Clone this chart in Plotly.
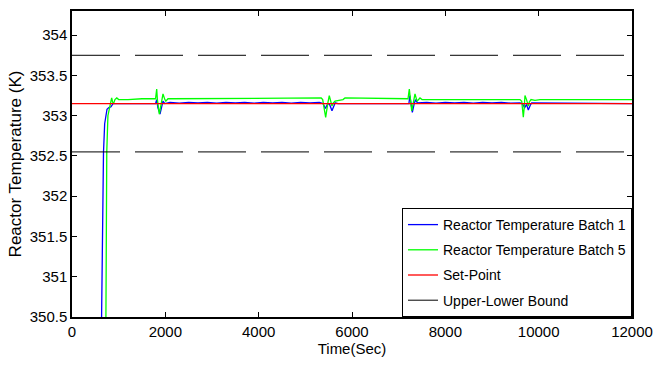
import plotly.graph_objects as go

# Reactor temperature, batch 1 (time in s, temperature in K)
t_batch1 = [630, 640, 660, 675, 700, 750, 790, 836, 879, 1790,
            1815, 1840, 1886, 1920, 1950, 1990,
            2100, 2300, 2500, 2700, 2900, 3100, 3300, 3500, 3700, 3900,
            4100, 4300, 4500, 4700, 4900, 5100, 5300,
            5380, 5430, 5480, 5520, 5571, 5610, 5640, 5700, 7220,
            7240, 7293, 7330, 7360, 7400,
            7600, 7800, 8000, 8200, 8400, 8600, 8800, 9000, 9200, 9400, 9600,
            9650, 9700, 9740, 9778, 9820, 9850, 12000]
T_batch1 = [350.3, 350.9, 351.8, 352.55, 352.9, 353.08, 353.1, 353.11, 353.15, 353.15,
            353.2, 353.1, 353.02, 353.1, 353.18, 353.15,
            353.165, 353.155, 353.165, 353.16, 353.165, 353.155, 353.165, 353.16, 353.165, 353.155,
            353.165, 353.16, 353.165, 353.155, 353.165, 353.16, 353.165,
            353.15, 353.09, 353.15, 353.14, 353.06, 353.12, 353.16, 353.15, 353.15,
            353.25, 353.04, 353.14, 353.2, 353.16,
            353.165, 353.155, 353.165, 353.16, 353.165, 353.155, 353.165, 353.16, 353.165, 353.155, 353.16,
            353.15, 353.1, 353.14, 353.07, 353.13, 353.16, 353.15]

# Reactor temperature, batch 5
t_batch5 = [725, 735, 745, 770, 800, 830, 850, 870, 890, 920, 960, 1000, 1200, 1500, 1790,
            1815, 1830, 1871, 1900, 1950, 1990, 2010, 2057, 5340,
            5372, 5436, 5480, 5513, 5571, 5600, 5636, 5700, 5807, 5850, 7200,
            7228, 7255, 7280, 7310, 7350, 7393, 7457, 7500, 7564, 9600,
            9637, 9671, 9690, 9707, 9740, 9778, 9800, 9836, 9921, 10029, 12000]
T_batch5 = [350.3, 351.5, 352.55, 353.0, 353.1, 353.2, 353.22, 353.17, 353.15, 353.2, 353.22, 353.2, 353.2, 353.21, 353.21,
            353.33, 353.2, 353.02, 353.1, 353.27, 353.2, 353.18, 353.21, 353.22,
            353.2, 352.98, 353.15, 353.25, 353.12, 353.16, 353.18, 353.19, 353.2, 353.22, 353.21,
            353.33, 353.2, 353.06, 353.15, 353.27, 353.18, 353.22, 353.2, 353.2, 353.2,
            353.18, 352.98, 353.1, 353.25, 353.2, 353.12, 353.17, 353.2, 353.19, 353.2, 353.2]

# Set-point and admissible band
t_span = [0, 12000]
set_point = [353.15, 353.15]
upper_bound = [353.75, 353.75]
lower_bound = [352.55, 352.55]

# Axis ticks
x_ticks = [0, 2000, 4000, 6000, 8000, 10000, 12000]
x_tick_labels = ["0", "2000", "4000", "6000", "8000", "10000", "12000"]
y_ticks = [350.5, 351, 351.5, 352, 352.5, 353, 353.5, 354]
y_tick_labels = ["350.5", "351", "351.5", "352", "352.5", "353", "353.5", "354"]

sans = "Liberation Sans, Arial, sans-serif"

fig = go.Figure()
fig.add_trace(go.Scatter(x=t_batch1, y=T_batch1, mode="lines",
                         line=dict(color="#0000FF", width=1.3),
                         name="Reactor Temperature Batch 1", legendgroup="b1"))
fig.add_trace(go.Scatter(x=t_batch5, y=T_batch5, mode="lines",
                         line=dict(color="#00FF00", width=1.3),
                         name="Reactor Temperature Batch 5", legendgroup="b5"))
fig.add_trace(go.Scatter(x=t_span, y=set_point, mode="lines",
                         line=dict(color="#FF0000", width=1.3),
                         name="Set-Point", legendgroup="sp"))
fig.add_trace(go.Scatter(x=t_span, y=upper_bound, mode="lines",
                         line=dict(color="black", width=1, dash="48px,15px"),
                         showlegend=False, hoverinfo="skip", legendgroup="bd"))
fig.add_trace(go.Scatter(x=t_span, y=lower_bound, mode="lines",
                         line=dict(color="black", width=1, dash="48px,15px"),
                         showlegend=False, hoverinfo="skip", legendgroup="bd"))
# legend entry for the bound lines, drawn solid
fig.add_trace(go.Scatter(x=[None], y=[None], mode="lines",
                         line=dict(color="black", width=1),
                         name="Upper-Lower Bound", legendgroup="bd"))

axis_common = dict(showline=True, linecolor="black", linewidth=1.5, mirror="ticks",
                   ticks="inside", ticklen=5, tickcolor="black", showgrid=False,
                   zeroline=False, tickfont=dict(family=sans, size=15, color="black"))

fig.update_xaxes(range=[0, 12000], tickvals=x_ticks, ticktext=x_tick_labels,
                 title=dict(text="Time(Sec)", font=dict(family=sans, size=15, color="black"),
                            standoff=4),
                 **axis_common)
fig.update_yaxes(range=[350.5, 354.3], tickvals=y_ticks, ticktext=y_tick_labels,
                 title=dict(text="Reactor Temperature (K)",
                            font=dict(family=sans, size=17, color="black"),
                            standoff=4),
                 **axis_common)

fig.update_layout(
    width=667, height=365,
    margin=dict(l=72, r=35, t=9, b=48),
    plot_bgcolor="white", paper_bgcolor="white",
    legend=dict(x=1, xanchor="right", y=0, yanchor="bottom",
                bgcolor="white", bordercolor="black", borderwidth=1,
                font=dict(family=sans, size=14, color="black"),
                traceorder="grouped", tracegroupgap=4),
    showlegend=True,
)

fig.write_html("out.html")
